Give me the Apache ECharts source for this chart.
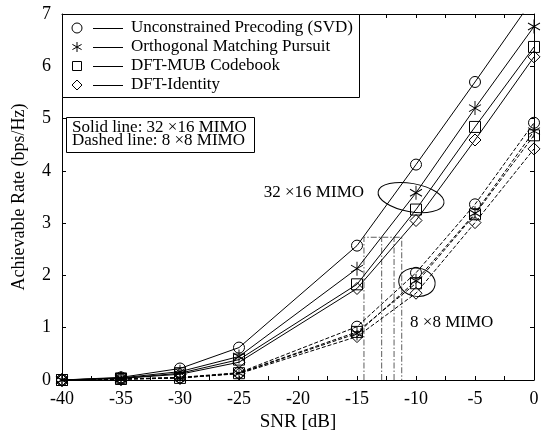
<!DOCTYPE html>
<html><head><meta charset="utf-8">
<script src="https://cdn.jsdelivr.net/npm/echarts@6/dist/echarts.min.js"></script>
<style>html,body{margin:0;padding:0;background:#fff}#c{width:541px;height:432px}</style>
</head><body><div id="c"></div>
<script>
// ---- data ----
const snr = [-40, -35, -30, -25, -15, -10, -5, 0];
const svd32 = [0, 0.05, 0.22, 0.62, 2.57, 4.12, 5.70, 7.31];
const omp32 = [0, 0.04, 0.16, 0.45, 2.13, 3.58, 5.20, 6.76];
const mub32 = [0, 0.03, 0.13, 0.39, 1.83, 3.26, 4.84, 6.37];
const id32  = [0, 0.03, 0.11, 0.34, 1.75, 3.05, 4.59, 6.18];
const svd8  = [0, 0.02, 0.05, 0.14, 1.02, 2.05, 3.36, 4.92];
const omp8  = [0, 0.02, 0.04, 0.13, 0.89, 1.90, 3.19, 4.76];
const mub8  = [0, 0.02, 0.04, 0.13, 0.92, 1.85, 3.17, 4.68];
const id8   = [0, 0.01, 0.04, 0.12, 0.83, 1.66, 3.01, 4.42];
const seriesNames = ['Unconstrained Precoding (SVD)', 'Orthogonal Matching Pursuit', 'DFT-MUB Codebook', 'DFT-Identity'];
const noteLines = ['Solid line: 32 \u00d716 MIMO', 'Dashed line: 8 \u00d78 MIMO'];
const xMin = -40, xMax = 0, xStep = 5;
const yMin = 0, yMax = 7, yStep = 1;
const xName = 'SNR [dB]';
const yName = 'Achievable Rate (bps/Hz)';
// dash-dot guide lines
const guideX = [-14.41, -12.91, -11.86, -11.21];
const guideTop = 2.73;
// group annotations
const groupLabels = ['32 \u00d716 MIMO', '8 \u00d78 MIMO'];
const groupLabelAt = [[-22.9, 3.59], [-10.5, 1.09]];
const ellipseAt = [[-10.42, 3.49], [-9.92, 1.87]];
const ellipseHalf = [[2.83, 0.27], [1.55, 0.27]];
const ellipseTilt = [10, 10];

// ---- styling ----
const FF = '"Liberation Serif", "Times New Roman", Times, serif';
const STAR = 'path://M0,0 L0,20 M-8.66,5 L8.66,15 M-8.66,15 L8.66,5';
const symbols = ['circle', STAR, 'rect', 'diamond'];
const symSizes = [11, [12, 14], 11, [12, 12]];

function mk(name, vals, k, dashed) {
  return {
    type: 'line', name: name,
    data: snr.map((x, i) => [x, vals[i]]),
    symbol: symbols[k], symbolSize: symSizes[k], showSymbol: true, clip: true,
    lineStyle: { color: '#000', width: 1, type: dashed ? [4, 2] : 'solid' },
    itemStyle: { color: 'rgba(0,0,0,0)', borderColor: '#000', borderWidth: 1 },
    emphasis: { disabled: true }, silent: true, z: 3
  };
}
function guide(pts) {
  return {
    type: 'line', data: pts, symbol: 'none', clip: true, silent: true, z: 2,
    lineStyle: { color: '#333', width: 0.8, type: [6, 2, 1.5, 2] }
  };
}

const series = [
  mk(seriesNames[0], svd32, 0, false),
  mk(seriesNames[1], omp32, 1, false),
  mk(seriesNames[2], mub32, 2, false),
  mk(seriesNames[3], id32, 3, false),
  mk(seriesNames[0] + ' 8x8', svd8, 0, true),
  mk(seriesNames[1] + ' 8x8', omp8, 1, true),
  mk(seriesNames[2] + ' 8x8', mub8, 2, true),
  mk(seriesNames[3] + ' 8x8', id8, 3, true),
  guide([[guideX[0], 0], [guideX[0], guideTop], [guideX[3], guideTop], [guideX[3], 0]]),
  guide([[guideX[1], 0], [guideX[1], guideTop]]),
  guide([[guideX[2], 0], [guideX[2], guideTop]]),
  {
    type: 'custom', silent: true, z: 4, clip: false,
    data: ellipseAt.map((c, i) => [c[0], c[1], ellipseHalf[i][0], ellipseHalf[i][1], ellipseTilt[i]]),
    renderItem: function (params, api) {
      const c = api.coord([api.value(0), api.value(1)]);
      const s = api.size([api.value(2), api.value(3)]);
      return {
        type: 'ellipse', x: c[0], y: c[1], rotation: -api.value(4) * Math.PI / 180,
        shape: { cx: 0, cy: 0, rx: s[0], ry: s[1] },
        style: { fill: 'none', stroke: '#000', lineWidth: 1 }
      };
    }
  },
  {
    type: 'custom', silent: true, z: 4, clip: false,
    data: groupLabelAt.map((p, i) => [p[0], p[1], i]),
    renderItem: function (params, api) {
      const c = api.coord([api.value(0), api.value(1)]);
      return {
        type: 'text', x: c[0], y: c[1],
        style: { text: groupLabels[api.value(2)], fill: '#000', font: '17px ' + FF, verticalAlign: 'middle', align: 'left' }
      };
    }
  }
];

// ---- legend (graphic) ----
const rowsY = [28, 47, 66, 85];
const mx = 77;
const legendEls = [
  { type: 'rect', shape: { x: 62.5, y: 14.5, width: 297, height: 83 }, style: { fill: '#fff', stroke: '#000', lineWidth: 1 }, z: 10 },
  { type: 'circle', shape: { cx: mx, cy: rowsY[0], r: 5 }, style: { fill: 'none', stroke: '#000', lineWidth: 1 }, z: 11 },
  { type: 'line', shape: { x1: mx, y1: rowsY[1] - 5, x2: mx, y2: rowsY[1] + 5 }, style: { stroke: '#000', lineWidth: 1 }, z: 11 },
  { type: 'line', shape: { x1: mx - 4.6, y1: rowsY[1] - 2.6, x2: mx + 4.6, y2: rowsY[1] + 2.6 }, style: { stroke: '#000', lineWidth: 1 }, z: 11 },
  { type: 'line', shape: { x1: mx - 4.6, y1: rowsY[1] + 2.6, x2: mx + 4.6, y2: rowsY[1] - 2.6 }, style: { stroke: '#000', lineWidth: 1 }, z: 11 },
  { type: 'rect', shape: { x: mx - 4.5, y: rowsY[2] - 4.5, width: 9, height: 9 }, style: { fill: 'none', stroke: '#000', lineWidth: 1 }, z: 11 },
  { type: 'polygon', shape: { points: [[mx, rowsY[3] - 5], [mx + 5, rowsY[3]], [mx, rowsY[3] + 5], [mx - 5, rowsY[3]]] }, style: { fill: 'none', stroke: '#000', lineWidth: 1 }, z: 11 }
];
rowsY.forEach((y, i) => {
  legendEls.push({ type: 'line', shape: { x1: 93, y1: y + 0.5, x2: 123, y2: y + 0.5 }, style: { stroke: '#000', lineWidth: 1 }, z: 11 });
  legendEls.push({ type: 'text', x: 131, y: y, style: { text: seriesNames[i], fill: '#000', font: '17px ' + FF, verticalAlign: 'middle' }, z: 11 });
});
legendEls.push({ type: 'rect', shape: { x: 66.5, y: 117.5, width: 188, height: 35 }, style: { fill: '#fff', stroke: '#000', lineWidth: 1 }, z: 10 });
noteLines.forEach((t, i) => {
  legendEls.push({ type: 'text', x: 72, y: 128 + i * 13, style: { text: t, fill: '#000', font: '17px ' + FF, verticalAlign: 'middle' }, z: 11 });
});

const axisCommon = {
  axisLine: { show: true, onZero: false, lineStyle: { color: '#000', width: 1 } },
  axisTick: { show: true, inside: true, length: 4, lineStyle: { color: '#000' } },
  splitLine: { show: false }
};

const option = {
  animation: false,
  backgroundColor: '#fff',
  grid: { left: 62, right: 7, top: 14, bottom: 52, containLabel: false, outerBoundsMode: 'none' },
  xAxis: [
    Object.assign({}, axisCommon, {
      type: 'value', min: xMin, max: xMax, interval: xStep, position: 'bottom',
      minorTick: { show: true, splitNumber: 2, length: 4, lineStyle: { color: '#000' } },
      axisLabel: { color: '#000', fontSize: 18, fontFamily: FF, margin: 10 },
      name: xName, nameLocation: 'middle', nameGap: 33,
      nameTextStyle: { color: '#000', fontSize: 19, fontFamily: FF }
    }),
    Object.assign({}, axisCommon, {
      type: 'value', min: xMin, max: xMax, interval: xStep, position: 'top',
      minorTick: { show: true, splitNumber: 2, length: 4, lineStyle: { color: '#000' } },
      axisLabel: { show: false }
    })
  ],
  yAxis: [
    Object.assign({}, axisCommon, {
      type: 'value', min: yMin, max: yMax, interval: yStep, position: 'left',
      axisLabel: { color: '#000', fontSize: 18, fontFamily: FF, margin: 11 },
      name: yName, nameLocation: 'middle', nameGap: 34,
      nameTextStyle: { color: '#000', fontSize: 18, fontFamily: FF }
    }),
    Object.assign({}, axisCommon, {
      type: 'value', min: yMin, max: yMax, interval: yStep, position: 'right',
      axisLabel: { show: false }
    })
  ],
  series: series,
  graphic: { elements: legendEls }
};

const chart = echarts.init(document.getElementById('c'), null, { renderer: 'canvas' });
chart.setOption(option);
</script>
</body></html>
